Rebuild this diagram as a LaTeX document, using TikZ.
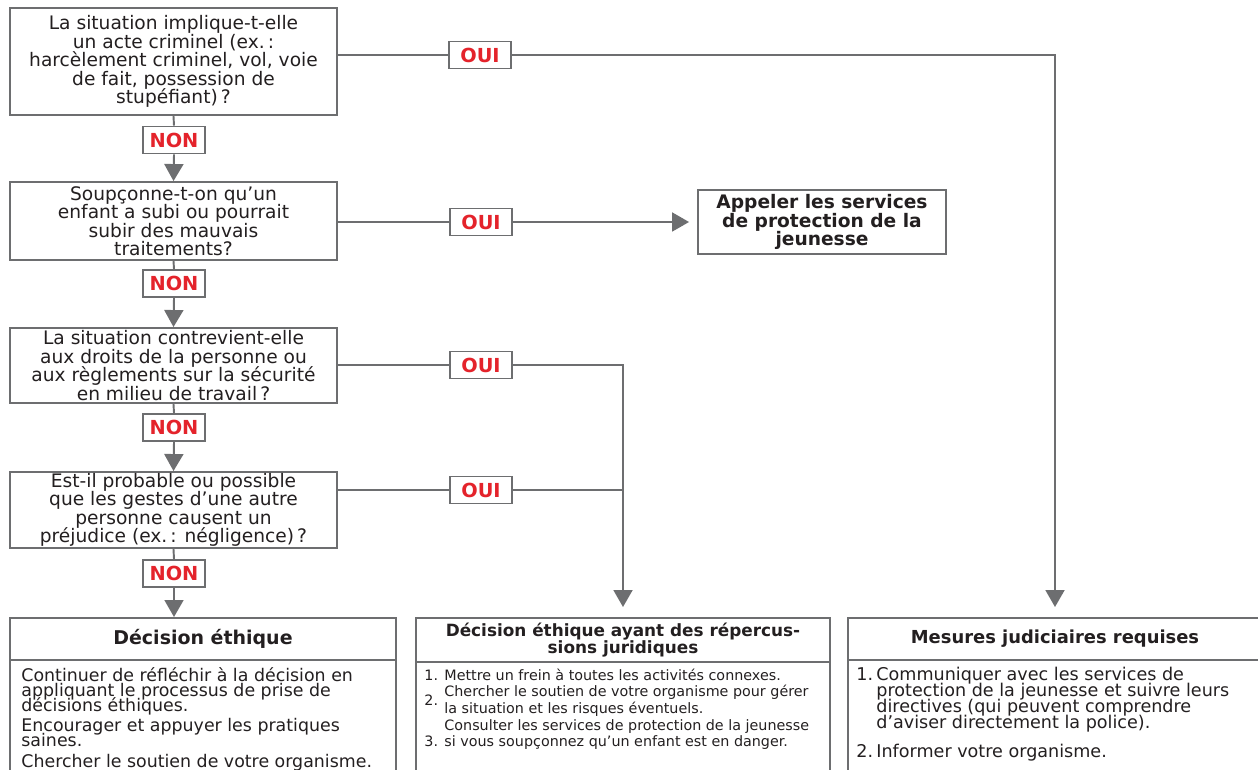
\documentclass[tikz,border=0pt]{standalone}
\usepackage{fontspec}
\setmainfont{DejaVu Sans}
\usetikzlibrary{arrows.meta,positioning}
\definecolor{linegray}{HTML}{6D6E70}
\definecolor{ouired}{HTML}{E4232B}
\definecolor{inkgray}{HTML}{231F20}
\newcommand\tightlines{\lineskiplimit=-\maxdimen}
\tikzset{
  qbox/.style={draw=linegray, line width=1.1pt, fill=white, align=center, text=inkgray,
    minimum width=6.54cm, inner sep=0pt, font=\fontsize{10.6}{10.5}\selectfont\tightlines},
  answer/.style={draw=linegray, line width=1.1pt, fill=white, text=ouired,
    minimum width=1.24cm, minimum height=0.54cm, inner sep=0pt, font=\bfseries\fontsize{11}{11}\selectfont},
  callbox/.style={draw=linegray, line width=1.1pt, align=center, text=inkgray,
    minimum width=4.96cm, minimum height=1.28cm, inner sep=0pt, font=\bfseries\fontsize{10.6}{10.5}\selectfont\tightlines},
  panel/.style={draw=linegray, line width=1.1pt, anchor=north, minimum height=3.36cm, inner sep=0pt},
  panelhead/.style={draw=linegray, line width=1.1pt, anchor=north, align=center, text=inkgray,
    inner sep=0pt},
  paneltext/.style={anchor=north west, align=left, text=inkgray, inner sep=0pt},
  link/.style={draw=linegray, line width=1.1pt},
  arr/.style={link, -{Triangle[width=0.38cm,length=0.34cm]}}
}
\begin{document}
\begin{tikzpicture}[x=0.02cm, y=-0.02cm]
  \useasboundingbox (0,0) rectangle (1258,770);
  %Questions:
  \node[qbox, minimum height=2.14cm] (q1) at (173.5,61.5) {La situation implique-t-elle\\un acte criminel (ex.\,:\\harcèlement criminel, vol, voie\\de fait, possession de\\stupéfiant)\,?};
  \node[qbox, minimum height=1.56cm] (q2) at (173.5,221) {Soupçonne-t-on qu’un\\enfant a subi ou pourrait\\subir des mauvais\\traitements?};
  \node[qbox, minimum height=1.5cm] (q3) at (173.5,365.5) {La situation contrevient-elle\\aux droits de la personne ou\\aux règlements sur la sécurité\\en milieu de travail\,?};
  \node[qbox, minimum height=1.52cm] (q4) at (173.5,510) {Est-il probable ou possible\\que les gestes d’une autre\\personne causent un\\préjudice (ex.\,: négligence)\,?};
  %Answers:
  \node[answer] (non1) at (174,140) {NON};
  \node[answer] (non2) at (174,283.5) {NON};
  \node[answer] (non3) at (174,427.5) {NON};
  \node[answer] (non4) at (174,573.5) {NON};
  \node[answer] (oui1) at (480,55) {OUI};
  \node[answer] (oui2) at (481,222) {OUI};
  \node[answer] (oui3) at (481,365) {OUI};
  \node[answer] (oui4) at (481,490) {OUI};
  %Outcomes:
  \node[callbox] (call) at (822,222) {Appeler les services\\de protection de la\\jeunesse};
  \node[panel, minimum width=7.72cm] (pa) at (203,617) {};
  \node[panel, minimum width=8.28cm] (pb) at (623,617) {};
  \node[panel, minimum width=8.28cm] (pc) at (1055,617) {};
  \node[panelhead, minimum width=7.72cm, minimum height=0.84cm, font=\bfseries\fontsize{10.8}{10}\selectfont] (ha) at (pa.north) {Décision éthique};
  \node[panelhead, minimum width=8.28cm, minimum height=0.88cm, font=\bfseries\fontsize{9.6}{9.6}\selectfont\tightlines] (hb) at (pb.north) {Décision éthique ayant des répercus-\\sions juridiques};
  \node[panelhead, minimum width=8.28cm, minimum height=0.84cm, font=\bfseries\fontsize{10.2}{10}\selectfont] (hc) at (pc.north) {Mesures judiciaires requises};
  \node[paneltext, font=\fontsize{9.9}{8.5}\selectfont\tightlines] (ta) at ([xshift=0.24cm, yshift=-0.12cm]ha.south west)
    {Continuer de réfléchir à la décision en\\appliquant le processus de prise de\\décisions éthiques.\\[3.4pt]
     Encourager et appuyer les pratiques\\saines.\\[3.4pt]
     Chercher le soutien de votre organisme.};
  \node[paneltext, font=\fontsize{8.15}{9.5}\selectfont\tightlines] (tb) at ([xshift=0.18cm, yshift=-0.11cm]hb.south west)
    {\makebox[0.4cm][l]{1.}Mettre un frein à toutes les activités connexes.\\
     \makebox[0.4cm][l]{\smash{\raisebox{-4.7pt}{2.}}}Chercher le soutien de votre organisme pour gérer\\
     \hspace*{0.4cm}la situation et les risques éventuels.\\
     \hspace*{0.4cm}Consulter les services de protection de la jeunesse\\
     \makebox[0.4cm][l]{3.}si vous soupçonnez qu’un enfant est en danger.};
  \node[paneltext, font=\fontsize{10}{9.1}\selectfont\tightlines] (tc) at ([xshift=0.18cm, yshift=-0.12cm]hc.south west)
    {\makebox[0.4cm][l]{1.}Communiquer avec les services de\\
     \hspace*{0.4cm}protection de la jeunesse et suivre leurs\\
     \hspace*{0.4cm}directives (qui peuvent comprendre\\
     \hspace*{0.4cm}d’aviser directement la police).\\[7.4pt]
     \makebox[0.4cm][l]{2.}Informer votre organisme.};
  %Edges:
  \draw[link] (q1.south) -- (non1.north);
  \draw[arr] (non1.south) -- (q2.north);
  \draw[link] (q2.south) -- (non2.north);
  \draw[arr] (non2.south) -- (q3.north);
  \draw[link] (q3.south) -- (non3.north);
  \draw[arr] (non3.south) -- (q4.north);
  \draw[link] (q4.south) -- (non4.north);
  \draw[arr] (non4.south) -- (non4.south |- ha.north);
  \draw[link] (oui1.west) -- (oui1.west -| q1.east);
  \draw[link] (oui2.west) -- (oui2.west -| q2.east);
  \draw[link] (oui3.west) -- (oui3.west -| q3.east);
  \draw[link] (oui4.west) -- (oui4.west -| q4.east);
  \draw[arr, shorten >=0.16cm] (oui2.east) -- (call.west);
  \draw[arr, shorten >=0.2cm] (oui1.east) -| (hc.north);
  \draw[arr, shorten >=0.2cm] (oui3.east) -| (hb.north);
  \draw[link] (oui4.east) -- (oui4.east -| hb.north);
\end{tikzpicture}
\end{document}
